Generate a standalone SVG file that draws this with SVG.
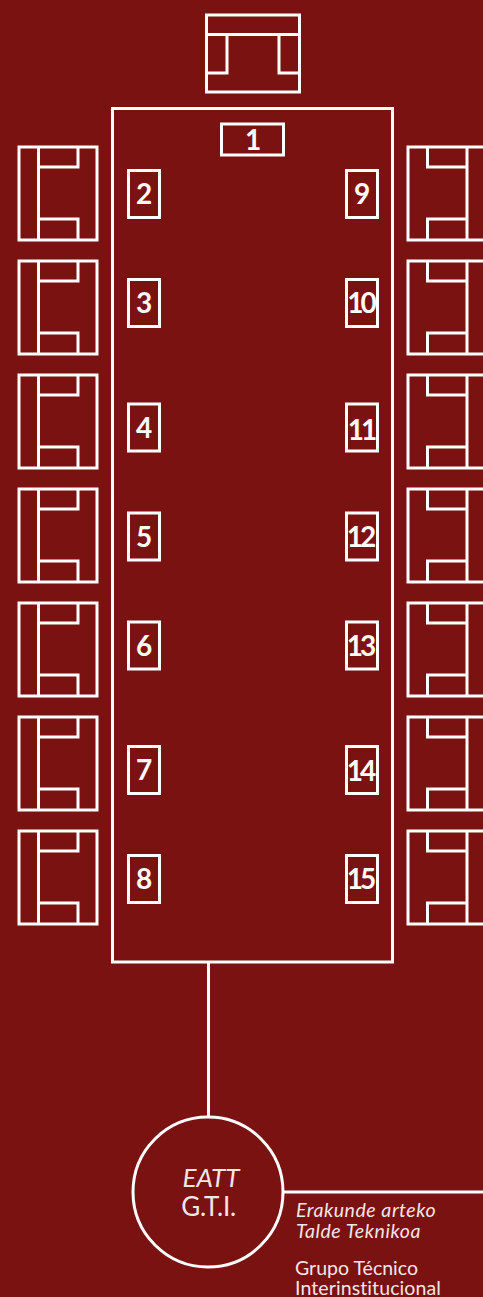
<svg xmlns="http://www.w3.org/2000/svg" width="483" height="1297" viewBox="0 0 483 1297">
<style>
.s{fill:none;stroke:#fff;stroke-width:3}
.thin{fill:none;stroke:#fff;stroke-width:3}
.n{fill:#fff;font-family:"Lato","Noto Sans",sans-serif;font-size:28px;font-weight:700;text-anchor:middle}
.w{letter-spacing:-3px}
.t{fill:#f3e6e6;font-family:"Lato","Noto Sans",sans-serif}
.c{font-size:19.500px}
.i{font-style:italic;letter-spacing:.55px}
</style>
<defs>
<g id="chairL" class="thin"><rect x="19" y="147" width="78" height="93"/><path d="M38.500 147V240M38.500 167H78V147M38.500 219H78V240"/></g>
<g id="chairR" class="thin"><rect x="408" y="147" width="78" height="93"/><path d="M467 147V240M467 167H427.500V147M467 219H427.500V240"/></g>
</defs>
<rect width="483" height="1297" fill="#7a1211"/>
<g id="connectors"><path class="s" d="M208.500 962V1118M283 1192H483"/></g>
<g id="table"><rect class="s" x="112.500" y="108.500" width="280" height="853.500"/></g>
<g id="chair-top" class="thin"><rect x="206.500" y="15" width="93" height="77"/><path d="M206.500 34.500H299.500M206.500 73H227V34.500M299.500 73H279V34.500"/></g>
<g id="chair-l1"><use href="#chairL"/></g>
<g id="chair-l2"><use href="#chairL" y="114"/></g>
<g id="chair-l3"><use href="#chairL" y="228"/></g>
<g id="chair-l4"><use href="#chairL" y="342"/></g>
<g id="chair-l5"><use href="#chairL" y="456"/></g>
<g id="chair-l6"><use href="#chairL" y="570"/></g>
<g id="chair-l7"><use href="#chairL" y="684"/></g>
<g id="chair-r1"><use href="#chairR"/></g>
<g id="chair-r2"><use href="#chairR" y="114"/></g>
<g id="chair-r3"><use href="#chairR" y="228"/></g>
<g id="chair-r4"><use href="#chairR" y="342"/></g>
<g id="chair-r5"><use href="#chairR" y="456"/></g>
<g id="chair-r6"><use href="#chairR" y="570"/></g>
<g id="chair-r7"><use href="#chairR" y="684"/></g>
<g id="seat-1"><rect class="thin" x="221.500" y="124" width="62" height="31"/><text class="n" x="253" y="150">1</text></g>
<g id="seat-2"><rect class="thin" x="128.500" y="170.500" width="31" height="47"/><text class="n" x="144" y="204">2</text></g>
<g id="seat-3"><rect class="thin" x="128.500" y="279.500" width="31" height="47"/><text class="n" x="144" y="313">3</text></g>
<g id="seat-4"><rect class="thin" x="128.500" y="404" width="31" height="47"/><text class="n" x="144" y="438">4</text></g>
<g id="seat-5"><rect class="thin" x="128.500" y="513" width="31" height="47"/><text class="n" x="144" y="547">5</text></g>
<g id="seat-6"><rect class="thin" x="128.500" y="622" width="31" height="47"/><text class="n" x="144" y="656">6</text></g>
<g id="seat-7"><rect class="thin" x="128.500" y="746.500" width="31" height="47"/><text class="n" x="144" y="780">7</text></g>
<g id="seat-8"><rect class="thin" x="128.500" y="855.500" width="31" height="47"/><text class="n" x="144" y="889">8</text></g>
<g id="seat-9"><rect class="thin" x="346.500" y="170.500" width="31" height="47"/><text class="n" x="362" y="204">9</text></g>
<g id="seat-10"><rect class="thin" x="346.500" y="279.500" width="31" height="47"/><text class="n w" x="360.500" y="313">10</text></g>
<g id="seat-11"><rect class="thin" x="346.500" y="404" width="31" height="47"/><text class="n w" x="361" y="440">11</text></g>
<g id="seat-12"><rect class="thin" x="346.500" y="513" width="31" height="47"/><text class="n w" x="360" y="547">12</text></g>
<g id="seat-13"><rect class="thin" x="346.500" y="622" width="31" height="47"/><text class="n w" x="360" y="656">13</text></g>
<g id="seat-14"><rect class="thin" x="346.500" y="746.500" width="31" height="47"/><text class="n w" x="360" y="781">14</text></g>
<g id="seat-15"><rect class="thin" x="346.500" y="855.500" width="31" height="47"/><text class="n w" x="360" y="889">15</text></g>
<g id="circle-gti"><circle class="s" cx="208" cy="1192" r="75"/>
<text class="t" x="211" y="1187" font-size="26" font-style="italic" text-anchor="middle">EATT</text>
<text class="t" x="208.500" y="1216" font-size="26" letter-spacing="-.3" text-anchor="middle">G.T.I.</text></g>
<g id="caption">
<text class="t c i" x="296" y="1217">Erakunde arteko</text>
<text class="t c i" x="296" y="1238">Talde Teknikoa</text>
<text class="t c" x="295" y="1275">Grupo Técnico</text>
<text class="t c" x="295" y="1295" letter-spacing=".1">Interinstitucional</text>
</g>
</svg>
